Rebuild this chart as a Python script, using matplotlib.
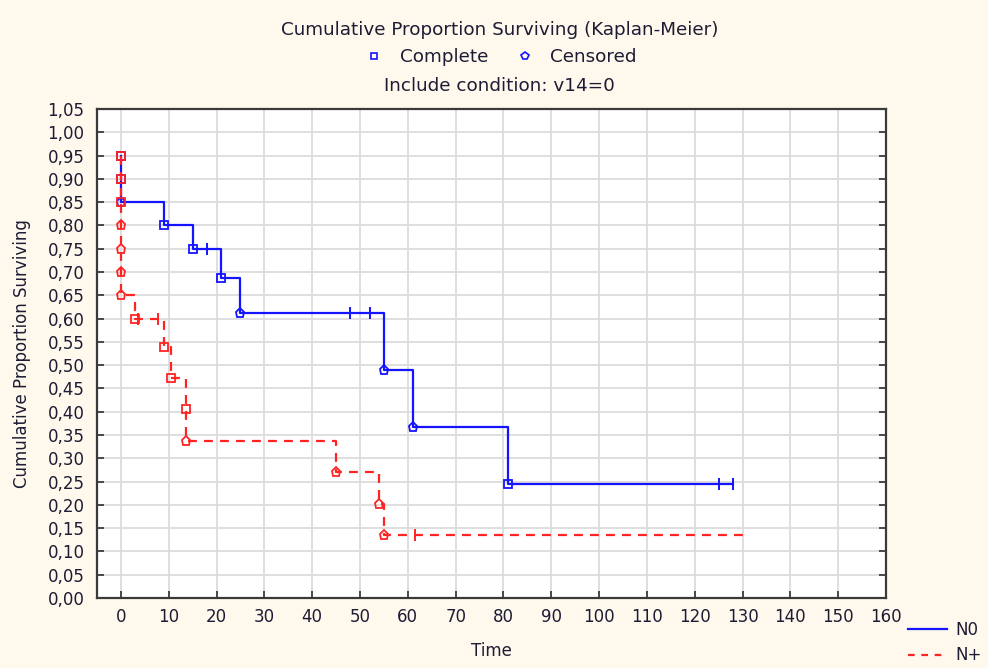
import matplotlib
matplotlib.use("Agg")
import matplotlib.pyplot as plt
from matplotlib.lines import Line2D

plt.rcParams['font.family'] = ['DejaVu Sans']

# Kaplan-Meier estimates, group N0
n0_event_time = [0, 0, 0, 9, 15, 21, 25, 55, 61, 81]
n0_survival = [0.95, 0.90, 0.85, 0.80, 0.75, 0.6875, 0.611, 0.489, 0.367, 0.244]
n0_marker = ['s', 's', 'p', 's', 's', 's', 'p', 'p', 'p', 's']
n0_censored = [18, 48, 52, 125, 128]
n0_end = 128

# Kaplan-Meier estimates, group N+
np_event_time = [0, 0, 0, 0, 0, 0, 0, 3, 9, 10.5, 13.7, 13.7, 45, 54, 55]
np_survival = [0.95, 0.90, 0.85, 0.80, 0.75, 0.70, 0.65, 0.60, 0.54, 0.4725,
               0.405, 0.3375, 0.27, 0.2025, 0.135]
np_marker = ['s', 's', 's', 'p', 'p', 'p', 'p', 's', 's', 's', 's', 'p', 'p', 'p', 'p']
np_censored = [3.6, 7.8, 61.4]
np_end = 130

group_labels = ['N0', 'N+']
x_ticks = list(range(0, 161, 10))
y_ticks = [round(v * 0.05, 2) for v in range(0, 22)]

BG = '#fff8ec'
TXT = '#1c1c34'
BLUE = '#1414ff'
RED = '#ff2424'
FS = 12
FS_HEAD = 13.2

fig = plt.figure(figsize=(9.88, 6.68), dpi=100, facecolor=BG)
ax = fig.add_axes([0.0982, 0.1048, 0.7986, 0.732])
ax.set_facecolor('white')


def surv_at(times, surv, t):
    """Survival value just after censoring time t."""
    val = None
    for ti, si in zip(times, surv):
        if ti <= t:
            val = si
    return val


def draw_group(times, surv, markers, censored, end, color, ls, dashes=None):
    xs = list(times) + [end]
    ys = list(surv) + [surv[-1]]
    line, = ax.plot(xs, ys, ls=ls, color=color, lw=1.6, drawstyle='steps-post', zorder=3)
    if dashes:
        line.set_dashes(dashes)
    for t, s, m in zip(times, surv, markers):
        ax.plot([t], [s], marker=m, ms=5.5 if m == 's' else 6.5, mfc='none',
                mec=color, mew=1.3, ls='none', zorder=4)
    cy = [surv_at(times, surv, c) for c in censored]
    ax.plot(censored, cy, marker='|', ms=9, mew=1.4, color=color, ls='none', zorder=4)


draw_group(n0_event_time, n0_survival, n0_marker, n0_censored, n0_end, BLUE, '-')
draw_group(np_event_time, np_survival, np_marker, np_censored, np_end, RED, '--',
           dashes=(4, 3.2))

ax.set_xlim(-5, 160)
ax.set_ylim(0, 1.05)
ax.set_xticks(x_ticks)
ax.set_yticks(y_ticks)
ax.set_yticklabels([f"{v:.2f}".replace('.', ',') for v in y_ticks])
ax.grid(True, color='#dcdcdc', lw=1.3, zorder=0)
ax.set_axisbelow(True)
ax.tick_params(axis='both', direction='in', length=5, width=1.1, colors='#202020',
               labelcolor=TXT, labelsize=FS, right=True)
ax.tick_params(axis='y', pad=9)
ax.tick_params(axis='x', pad=7)
for sp in ax.spines.values():
    sp.set_color('#3a3a3a')
    sp.set_linewidth(1.6)

ax.set_xlabel('Time', fontsize=FS, color=TXT, labelpad=12)
ax.set_ylabel('Cumulative Proportion Surviving', fontsize=FS, color=TXT, labelpad=12)

fig.text(0.506, 0.955, 'Cumulative Proportion Surviving (Kaplan-Meier)',
         ha='center', va='center', fontsize=FS_HEAD, color=TXT)
fig.text(0.506, 0.872, 'Include condition: v14=0', ha='center', va='center',
         fontsize=FS_HEAD, color=TXT)

top_handles = [Line2D([], [], marker='s', ms=5, mfc='none', mec=BLUE, mew=1.2, ls='none'),
               Line2D([], [], marker='p', ms=6, mfc='none', mec=BLUE, mew=1.2, ls='none')]
fig.legend(top_handles, ['Complete', 'Censored'], loc='center',
           bbox_to_anchor=(0.506, 0.914), ncol=2, frameon=False, fontsize=FS_HEAD,
           labelcolor=TXT, handlelength=1.2, handletextpad=0.8, columnspacing=1.4)

grp_handles = [Line2D([], [], color=BLUE, lw=1.6),
               Line2D([], [], color=RED, lw=1.6, ls=(0, (3, 3)))]
fig.legend(grp_handles, group_labels, loc='upper left', bbox_to_anchor=(0.911, 0.083),
           frameon=False, fontsize=FS, labelcolor=TXT, handlelength=2.3,
           handletextpad=0.5, labelspacing=0.45, borderpad=0)

fig.savefig('out.png', dpi=100, facecolor=BG)
